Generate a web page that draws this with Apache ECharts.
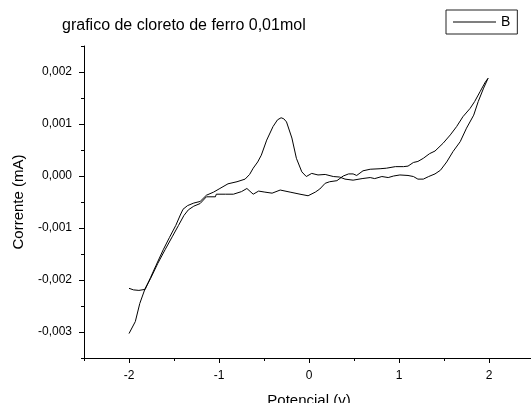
<!DOCTYPE html>
<html>
<head>
<meta charset="utf-8">
<script src="https://cdn.jsdelivr.net/npm/echarts@6/dist/echarts.min.js"></script>
<style>
  html, body { margin: 0; padding: 0; background: #fff; }
  #chart { width: 531px; height: 403px; }
</style>
</head>
<body>
<div id="chart"></div>
<script>
  // potencial (V) e corrente (mA), varredura de ida e volta
  var potencial = [
    -2.00, -1.95, -1.89, -1.82, -1.76, -1.70, -1.62, -1.55, -1.48, -1.43,
    -1.40, -1.35, -1.28, -1.21, -1.14, -1.06, -0.99, -0.90, -0.80, -0.71,
    -0.66, -0.62, -0.57, -0.53, -0.47, -0.40, -0.35, -0.31, -0.28, -0.25,
    -0.19, -0.14, -0.08, -0.03, 0.03, 0.10, 0.18, 0.27, 0.34, 0.40,
    0.49, 0.59, 0.68, 0.73, 0.81, 0.88, 0.94, 1.01, 1.10, 1.16,
    1.21, 1.27, 1.33, 1.40, 1.46, 1.53, 1.60, 1.68, 1.75, 1.83,
    1.88, 1.94, 1.99,
    1.96, 1.90, 1.84, 1.79, 1.71, 1.64, 1.57, 1.49, 1.40, 1.34,
    1.27, 1.21, 1.16, 1.10, 1.05, 0.96, 0.86, 0.79, 0.68, 0.60,
    0.53, 0.49, 0.44, 0.38, 0.31, 0.23, 0.18, 0.12, 0.07, -0.01,
    -0.10, -0.21, -0.32, -0.41, -0.49, -0.56, -0.62, -0.69, -0.75, -0.84,
    -0.93, -1.03, -1.04, -1.14, -1.21, -1.28, -1.34, -1.39, -1.45, -1.52,
    -1.60, -1.68, -1.76, -1.82, -1.88, -1.93, -2.00
  ]
  var corrente = [
    -0.00216, -0.00219, -0.00220, -0.00218, -0.00195, -0.00172, -0.00142, -0.00118, -0.00095, -0.00075,
    -0.00064, -0.00057, -0.00052, -0.00049, -0.00037, -0.00031, -0.00024, -0.00015, -0.00011, -0.00006,
    0.00003, 0.00015, 0.00027, 0.00040, 0.00069, 0.00095, 0.00108, 0.00112, 0.00110, 0.00104,
    0.00073, 0.00034, 0.00008, -0.00001, 0.00005, 0.00002, 0.00003, -0.00001, -0.00002, -0.00006,
    -0.00008, -0.00005, -0.00003, -0.00005, -0.00001, -0.00003, 0.00000, 0.00002, 0.00001, -0.00001,
    -0.00006, -0.00006, -0.00001, 0.00004, 0.00011, 0.00027, 0.00047, 0.00066, 0.00092, 0.00117,
    0.00143, 0.00169, 0.00188,
    0.00181, 0.00162, 0.00143, 0.00130, 0.00114, 0.00095, 0.00079, 0.00063, 0.00048, 0.00043,
    0.00034, 0.00028, 0.00026, 0.00019, 0.00018, 0.00018, 0.00015, 0.00014, 0.00013, 0.00010,
    0.00001, 0.00004, 0.00004, 0.00000, -0.00009, -0.00011, -0.00014, -0.00025, -0.00031, -0.00038,
    -0.00035, -0.00031, -0.00027, -0.00033, -0.00031, -0.00029, -0.00035, -0.00024, -0.00030, -0.00035,
    -0.00035, -0.00035, -0.00040, -0.00040, -0.00053, -0.00058, -0.00065, -0.00076, -0.00095, -0.00117,
    -0.00142, -0.00168, -0.00197, -0.00216, -0.00245, -0.00280, -0.00303
  ]
  var xTicks = [-2, -1, 0, 1, 2]
  var xMinorTicks = [-2.5, -1.5, -0.5, 0.5, 1.5, 2.5]
  var yTicks = [-0.003, -0.002, -0.001, 0, 0.001, 0.002]
  var yMinorTicks = [-0.0035, -0.0025, -0.0015, -0.0005, 0.0005, 0.0015, 0.0025]

  var font = 'Liberation Sans, Arial, sans-serif'
  var pontos = potencial.map(function (x, i) { return [x, corrente[i]] })

  var chart = echarts.init(document.getElementById('chart'))
  var option = {
    animation: false,
    title: {
      text: 'grafico de cloreto de ferro 0,01mol',
      left: 62,
      top: 18,
      padding: 0,
      textStyle: { fontFamily: font, fontSize: 16, fontWeight: 'normal', color: '#000' }
    },
    legend: {
      data: ['B'],
      left: 446,
      top: 10,
      padding: [5, 7, 5, 7],
      icon: 'rect',
      itemWidth: 43,
      itemHeight: 1,
      itemStyle: { color: '#000' },
      borderColor: '#222',
      borderWidth: 1,
      textStyle: { fontFamily: font, fontSize: 14, color: '#000', lineHeight: 14 }
    },
    grid: { left: 84, right: -3, top: 46, bottom: 45, containLabel: false, outerBoundsMode: 'none' },
    xAxis: [
      {
        type: 'value',
        min: -2.5,
        max: 2.5,
        name: 'Potencial (v)',
        nameLocation: 'middle',
        nameGap: 35,
        nameTextStyle: { fontFamily: font, fontSize: 15, color: '#000' },
        axisLine: { onZero: false, lineStyle: { color: '#000', width: 1 } },
        axisTick: { customValues: xTicks, length: 5, lineStyle: { color: '#000' } },
        axisLabel: {
          customValues: xTicks,
          margin: 12,
          fontFamily: font,
          fontSize: 12,
          color: '#000',
          formatter: function (v) { return String(Math.round(v)) }
        },
        splitLine: { show: false }
      },
      {
        type: 'value',
        min: -2.5,
        max: 2.5,
        position: 'bottom',
        axisLine: { show: false, onZero: false },
        axisTick: { customValues: xMinorTicks, length: 3, lineStyle: { color: '#000' } },
        axisLabel: { show: false },
        splitLine: { show: false }
      }
    ],
    yAxis: [
      {
        type: 'value',
        min: -0.0035,
        max: 0.0025,
        name: 'Corrente (mA)',
        nameLocation: 'middle',
        nameGap: 58,
        nameTextStyle: { fontFamily: font, fontSize: 15, color: '#000' },
        axisLine: { show: true, onZero: false, lineStyle: { color: '#000', width: 1 } },
        axisTick: { show: true, customValues: yTicks, length: 5, lineStyle: { color: '#000' } },
        axisLabel: {
          customValues: yTicks,
          margin: 12,
          fontFamily: font,
          fontSize: 12,
          color: '#000',
          formatter: function (v) { return v.toFixed(3).replace('.', ',') }
        },
        splitLine: { show: false }
      },
      {
        type: 'value',
        min: -0.0035,
        max: 0.0025,
        position: 'left',
        axisLine: { show: false, onZero: false },
        axisTick: { show: true, customValues: yMinorTicks, length: 3, lineStyle: { color: '#000' } },
        axisLabel: { show: false },
        splitLine: { show: false }
      }
    ],
    series: [
      {
        name: 'B',
        type: 'line',
        xAxisIndex: 0,
        yAxisIndex: 0,
        data: pontos,
        showSymbol: false,
        symbol: 'none',
        lineStyle: { color: '#000', width: 1 },
        itemStyle: { color: '#000' }
      }
    ]
  }
  chart.setOption(option)
</script>
</body>
</html>
